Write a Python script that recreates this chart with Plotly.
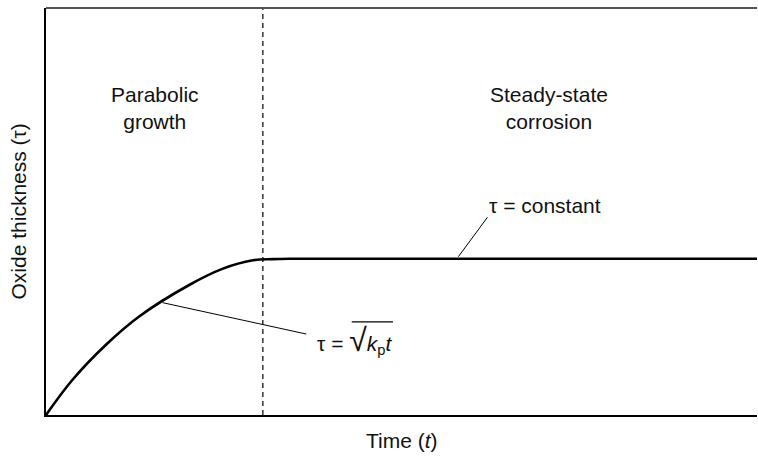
import plotly.graph_objects as go

# Curve (time and thickness on a 0-100 scale)
time_vals = [0, 3.7, 8.4, 13.1, 20.2, 24.8, 29.1, 31.9, 34.2, 100]
thickness_vals = [0, 8.6, 17.2, 24.2, 32.0, 35.9, 38.0, 38.3, 38.4, 38.4]

transition_time = 30.5

region_labels = ["Parabolic<br>growth", "Steady-state<br>corrosion"]
region_x = [15.4, 70.8]
region_y = [75.4, 75.4]

FONT = "Liberation Sans, Arial, Helvetica, sans-serif"
FS = 21

fig = go.Figure()
fig.add_trace(go.Scatter(x=time_vals, y=thickness_vals, mode="lines",
                         line=dict(color="black", width=2.6, shape="spline", smoothing=1.0),
                         hoverinfo="skip", showlegend=False))

# transition dashed line
fig.add_shape(type="line", x0=transition_time, x1=transition_time, y0=0, y1=100,
              xref="x", yref="y", line=dict(color="black", width=1.2, dash="5px,4px"))
# top border
fig.add_shape(type="line", x0=0, x1=1, y0=1, y1=1, xref="paper", yref="paper",
              line=dict(color="#555555", width=2))

for txt, x, y in zip(region_labels, region_x, region_y):
    fig.add_annotation(x=x, y=y, text=txt, showarrow=False, xref="x", yref="y",
                       font=dict(family=FONT, size=FS, color="#111111"),
                       xanchor="center", yanchor="middle")

# tau = constant label and leader
fig.add_annotation(x=62.0, y=51.4, text="τ = constant", showarrow=False, xanchor="left",
                   yanchor="middle", font=dict(family=FONT, size=FS, color="#111111"))
fig.add_shape(type="line", x0=62.1, y0=48.6, x1=58.0, y1=38.9, xref="x", yref="y",
              line=dict(color="black", width=1))

# tau = sqrt(kp t) label and leader
fig.add_annotation(x=37.9, y=18.5, text="τ = <span style='font-size:32px'>√</span><i>k</i><sub>p</sub><i>t</i>",
                   showarrow=False, xanchor="left", yanchor="middle",
                   font=dict(family=FONT, size=FS, color="#111111"))
fig.add_shape(type="line", x0=43.0, y0=22.9, x1=48.8, y1=22.9, xref="x", yref="y",
              line=dict(color="black", width=1.2))
fig.add_shape(type="line", x0=16.4, y0=27.6, x1=36.6, y1=19.9, xref="x", yref="y",
              line=dict(color="black", width=1))

# axis titles
fig.add_annotation(x=0.5, y=-0.03, xref="paper", yref="paper", text="Time (<i>t</i>)",
                   showarrow=False, xanchor="center", yanchor="top",
                   font=dict(family=FONT, size=FS, color="#111111"))
fig.add_annotation(x=-0.019, y=0.5, xref="paper", yref="paper", text="Oxide thickness (τ)",
                   showarrow=False, xanchor="right", yanchor="middle", textangle=-90,
                   font=dict(family=FONT, size=FS, color="#111111"))

fig.update_xaxes(range=[0, 100], showgrid=False, zeroline=False, showticklabels=False,
                 ticks="", showline=True, linecolor="black", linewidth=2)
fig.update_yaxes(range=[0, 100], showgrid=False, zeroline=False, showticklabels=False,
                 ticks="", showline=True, linecolor="black", linewidth=1.6)

fig.update_layout(width=758, height=456, margin=dict(l=46, r=1, t=8, b=41),
                  plot_bgcolor="white", paper_bgcolor="white")

fig.write_html("out.html", config={"displayModeBar": False},
               post_script="document.body.style.margin='0';document.body.style.overflow='hidden';")
